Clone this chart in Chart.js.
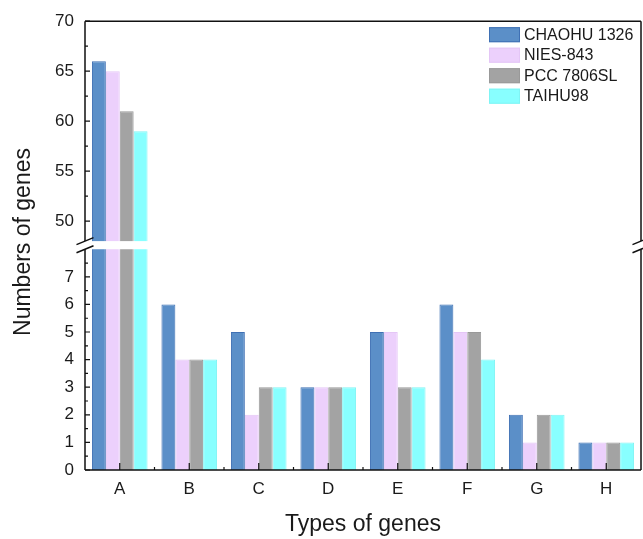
<!DOCTYPE html>
<html>
<head>
<meta charset="utf-8">
<script src="https://cdn.jsdelivr.net/npm/chart.js@4.4.1/dist/chart.umd.min.js"></script>
<style>
    html, body { margin: 0; padding: 0; background: #fff; }
    #wrap { width: 643px; height: 539px; }
</style>
</head>
<body>
<div id="wrap"><canvas id="geneChart"></canvas></div>
<script>
const categories = ['A', 'B', 'C', 'D', 'E', 'F', 'G', 'H'];
const seriesNames = ['CHAOHU 1326', 'NIES-843', 'PCC 7806SL', 'TAIHU98'];
const chaohu = [66, 6, 5, 3, 5, 6, 2, 1];
const nies = [65, 4, 2, 3, 5, 5, 1, 1];
const pcc = [61, 4, 3, 3, 3, 5, 2, 1];
const taihu = [59, 4, 3, 3, 3, 4, 2, 1];
const upperTicks = [50, 55, 60, 65, 70];
const lowerTicks = [0, 1, 2, 3, 4, 5, 6, 7];

const fills = ['#5b8fc8', '#ecd0fc', '#a3a3a3', '#88ffff'];
const borders = ['#3f70b4', '#e4c6f6', '#999999', '#80f4f4'];

// broken y axis: lower part 0..8, upper part 48..70
const lowMax = 8.15, breakLow = 8;
const highMin = 47.6, breakHigh = 48, highMax = 70;

const seriesValues = [chaohu, nies, pcc, taihu];
let datasets = [];
seriesValues.forEach((vals, i) => {
    datasets.push({
        label: seriesNames[i],
        data: vals.map(v => v > highMin ? v : null),
        yAxisID: 'yTop',
        stack: 's' + i,
        base: highMin,
        backgroundColor: fills[i],
        borderColor: borders[i],
        borderWidth: 1
    });
});
seriesValues.forEach((vals, i) => {
    datasets.push({
        label: seriesNames[i] + ' (low)',
        data: vals.map(v => Math.min(v, lowMax)),
        yAxisID: 'yBot',
        stack: 's' + i,
        backgroundColor: fills[i],
        borderColor: borders[i],
        borderWidth: 1
    });
});

const fontFamily = '"Liberation Sans", Arial, sans-serif';
const textColor = '#1a1a1a';

// frame, inward ticks, axis break, legend and y title
const decorPlugin = {
    id: 'decor',
    afterDatasetsDraw(chart) {
        const ctx = chart.ctx;
        const area = chart.chartArea;
        const yT = chart.scales.yTop, yB = chart.scales.yBot, x = chart.scales.x;
        const gapTop = yT.getPixelForValue(breakHigh);
        const gapBot = yB.getPixelForValue(breakLow);

        ctx.save();
        // white gap of the break
        ctx.fillStyle = '#fff';
        ctx.fillRect(area.left - 2, gapTop, area.right - area.left + 6, gapBot - gapTop);

        ctx.strokeStyle = '#111';
        ctx.lineWidth = 1.5;
        ctx.beginPath();
        // top and bottom
        ctx.moveTo(area.left, area.top); ctx.lineTo(area.right, area.top);
        ctx.moveTo(area.left, area.bottom); ctx.lineTo(area.right, area.bottom);
        // left and right, split at the break
        [area.left, area.right].forEach(px => {
            ctx.moveTo(px, area.top); ctx.lineTo(px, gapTop);
            ctx.moveTo(px, gapBot); ctx.lineTo(px, area.bottom);
        });
        ctx.stroke();

        // y ticks, pointing inward
        ctx.lineWidth = 1.2;
        ctx.beginPath();
        const yTick = (scale, v, len) => {
            const py = scale.getPixelForValue(v);
            ctx.moveTo(area.left, py); ctx.lineTo(area.left + len, py);
        };
        upperTicks.forEach((v, i) => {
            yTick(yT, v, 5);
            if (i > 0) yTick(yT, (v + upperTicks[i - 1]) / 2, 3);
        });
        lowerTicks.forEach(v => {
            yTick(yB, v, 5);
            yTick(yB, v + 0.5, 3);
        });
        // x ticks
        categories.forEach((c, i) => {
            const px = x.getPixelForValue(i);
            ctx.moveTo(px, area.bottom); ctx.lineTo(px, area.bottom - 7);
            if (i > 0) {
                const mid = (px + x.getPixelForValue(i - 1)) / 2;
                ctx.moveTo(mid, area.bottom); ctx.lineTo(mid, area.bottom - 3);
            }
        });
        ctx.stroke();

        // break marks
        ctx.lineWidth = 1.5;
        ctx.beginPath();
        [area.left, area.right].forEach(px => {
            [gapTop, gapBot].forEach(py => {
                ctx.moveTo(px - 8.5, py + 3.5);
                ctx.lineTo(px + 8.5, py - 3.5);
            });
        });
        ctx.stroke();

        // legend
        ctx.font = '16px ' + fontFamily;
        ctx.textBaseline = 'middle';
        ctx.textAlign = 'left';
        const lx = area.right - 152;
        seriesNames.forEach((name, i) => {
            const ly = area.top + 6 + i * 20.5;
            ctx.fillStyle = fills[i];
            ctx.fillRect(lx, ly, 31, 15);
            ctx.strokeStyle = borders[i];
            ctx.lineWidth = 1;
            ctx.strokeRect(lx + 0.5, ly + 0.5, 30, 14);
            ctx.fillStyle = textColor;
            ctx.fillText(name, lx + 35, ly + 8);
        });

        // y axis title
        ctx.font = '23px ' + fontFamily;
        ctx.textAlign = 'center';
        ctx.translate(24, 242);
        ctx.rotate(-Math.PI / 2);
        ctx.fillText('Numbers of genes', 0, 0);
        ctx.restore();
    }
};

const yTickOpts = { font: { size: 17, family: fontFamily }, color: textColor, padding: 11, autoSkip: false };

let ctx = document.getElementById('geneChart').getContext('2d');
let geneChart = new Chart(ctx, {
    type: 'bar',
    data: {
        labels: categories,
        datasets: datasets
    },
    options: {
        responsive: true,
        maintainAspectRatio: false,
        animation: false,
        layout: { padding: { top: 21, right: 2, left: 0, bottom: 1 } },
        datasets: {
            bar: { barPercentage: 1.0, categoryPercentage: 0.8 }
        },
        scales: {
            x: {
                grid: { display: false, drawTicks: false },
                border: { display: false },
                ticks: { font: { size: 17, family: fontFamily }, color: textColor, padding: 9 },
                title: {
                    display: true,
                    text: 'Types of genes',
                    font: { size: 23, family: fontFamily },
                    color: textColor,
                    padding: { top: 2, bottom: 0 }
                }
            },
            yBot: {
                type: 'linear',
                position: 'left',
                stack: 'y',
                stackWeight: 225,
                stacked: false,
                min: 0,
                max: lowMax,
                grid: { display: false, drawTicks: false },
                border: { display: false },
                ticks: yTickOpts,
                afterBuildTicks: scale => { scale.ticks = lowerTicks.map(v => ({ value: v })); },
                afterFit: scale => { scale.width = 85; }
            },
            yTop: {
                type: 'linear',
                position: 'left',
                stack: 'y',
                stackWeight: 224,
                stacked: false,
                min: highMin,
                max: highMax,
                grid: { display: false, drawTicks: false },
                border: { display: false },
                ticks: yTickOpts,
                afterBuildTicks: scale => { scale.ticks = upperTicks.map(v => ({ value: v })); },
                afterFit: scale => { scale.width = 85; }
            }
        },
        plugins: {
            legend: { display: false },
            tooltip: { enabled: false }
        }
    },
    plugins: [decorPlugin]
});
</script>
</body>
</html>
